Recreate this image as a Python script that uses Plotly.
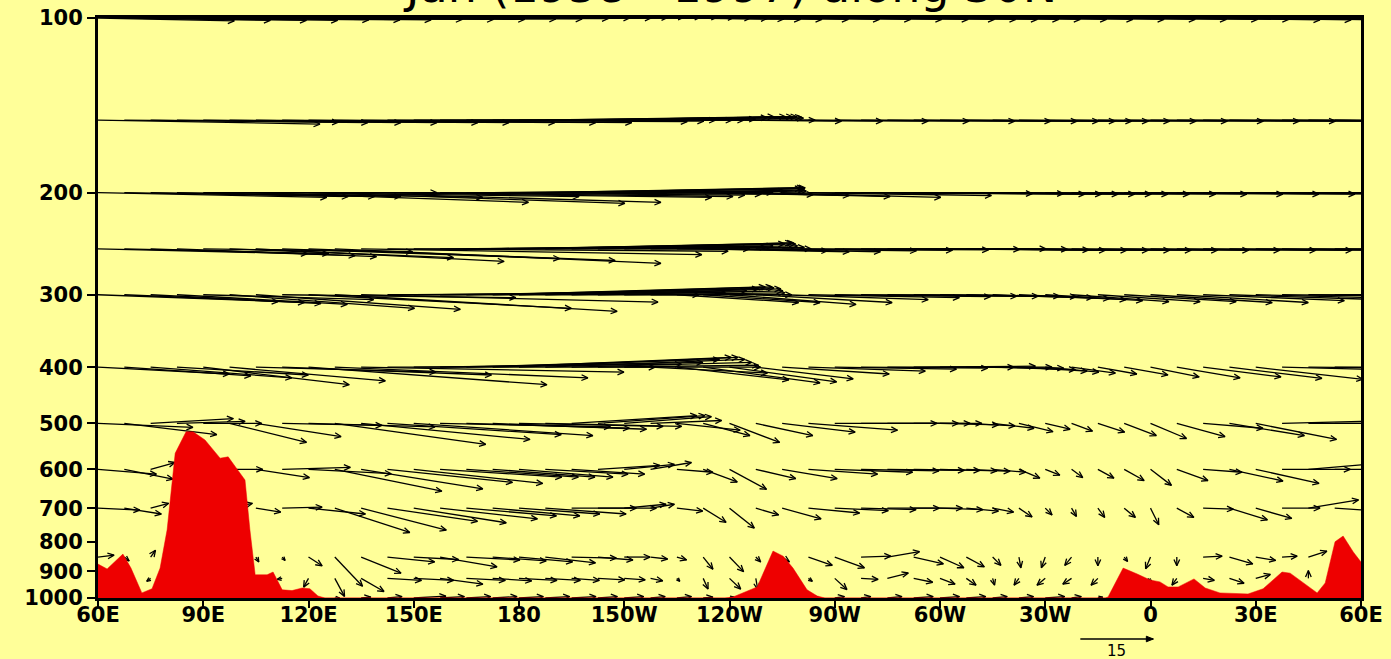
import numpy as np
import plotly.graph_objects as go

# ---------------- data ----------------
LEVELS = [100, 150, 200, 250, 300, 400, 500, 600, 700, 850, 925, 1000]   # hPa
LONS = np.arange(60.0, 420.0, 7.5)   # 48 grid longitudes from 60E eastward (degrees, 0..360+)

# zonal wind u (m/s) and scaled vertical component w (+ = upward) at each level
u100 = [28,30,32,33,34,35,36,37,38,39, 40,40,40,39,38,36,34,32,30,28, 26,24,22,20,19,19,20,21,22,22,
        22,21,20,19,18,18,18,19,20,21, 22,23,24,25,26,27,28,28]
w100 = [-0.6,-0.5,-0.5,-0.5,-0.4,-0.4,-0.4,-0.3,-0.3,-0.3, -0.2,-0.2,-0.1,0,0,0.1,0.2,0.2,0.2,0.1,
        0,-0.1,-0.2,-0.3,-0.3,-0.3,-0.3,-0.3,-0.3,-0.3, -0.3,-0.3,-0.3,-0.3,-0.3,-0.3,-0.3,-0.3,-0.3,-0.3,
        -0.3,-0.3,-0.4,-0.4,-0.4,-0.5,-0.5,-0.6]
u150 = [45.6,44,44.6,46,48,51,52,56,59,61, 67,65,62,60,57,54,51,47,44,40, 35.5,31,26,23,23,26,30,33,37,39,
        39,38,36,34,32,31,31,32,34,36, 38,40,42,43,44,45,45,45]
w150 = [-0.8,-0.4,-0.5,-0.5,-0.5,-0.5,-0.5,-0.5,-0.5,-0.5, -0.3,-0.2,0,0,0,0.2,0.5,0.7,0.7,0.7,
        0.7,0.6,0.4,0,-0.2,-0.2,-0.2,-0.2,-0.2,-0.2, -0.2,-0.2,-0.2,-0.2,-0.2,-0.2,-0.2,-0.2,-0.2,-0.2,
        -0.2,-0.2,-0.2,-0.2,-0.2,-0.2,-0.2,-0.3]
u200 = [47,46,46,46,48,52,56,61,65,67, 72,71,68,66,63,60,58,53,48,42.5, 37,32,28,30,33,38,43,46,47,46,
        44,42,40,38,36,35,35,36,38,40, 42,44,45,46,47,47,47,47]
w200 = [-1.0,-0.8,-0.8,-0.8,0,-1.0,-2.0,-0.8,-2.2,-2.0, -1.0,-0.8,-0.5,-0.3,0,0.3,0.8,1.0,1.0,0.8,
        0.5,0.3,-0.4,-0.6,-0.8,-1.0,-0.6,-0.2,-0.2,-0.3, -0.3,-0.3,-0.3,-0.3,-0.3,-0.3,-0.3,-0.3,-0.3,-0.3,
        -0.3,-0.3,-0.3,-0.3,-0.3,-0.3,-0.3,-0.3]
u250 = [43,42,42,41,43,46,51,57,63,67, 70,70,69,67,63,60,56,51,46,41, 37,33,31,30,31,33,35,37,38,38,
        37,36,34,33,32,31,30,30,31,32, 34,36,38,40,41,42,42,42]
w250 = [-1.0,-1.0,-1.4,-1.6,-0.6,-1.8,-2.6,-2.0,-2.4,-3.0, -1.2,-0.5,0,0.3,0.6,1.0,1.2,1.2,1.0,0.6,
        0.3,0,-0.4,-0.6,-0.6,-0.4,-0.3,-0.2,-0.1,0, -0.1,-0.2,-0.3,-0.3,-0.3,-0.3,-0.3,-0.3,-0.3,-0.3,
        -0.3,-0.3,-0.3,-0.3,-0.3,-0.3,-0.3,-0.3]
u300 = [37,37,35,35,35,38,42,48,54,58, 61,64,64,63,60,56,52,47,43,38, 33,29,25,24,26,28,30,31,32,32,
        31,30,28,26,24,22,20,20,21,23, 25,27,29,31,33,35,36,37]
w300 = [-1.4,-1.6,-1.8,-2.0,-1.0,-2.8,-3.0,-0.6,-2.8,-3.4, -1.5,0,0.5,0.8,1.2,1.6,1.6,1.4,1.2,0.8,
        0.4,0,-1.6,-1.6,-2.0,-1.6,-1.0,-0.6,-0.4,-0.3, -0.3,-0.3,-0.4,-0.6,-0.8,-1.0,-1.2,-1.4,-1.4,-1.4,
        -1.6,-1.6,-1.2,-1.0,-0.8,-0.4,-0.2,0]
u400 = [27,26,29,27,30,32,37,43,49,52, 54,55,55,54,52,49,45,41,37,33, 28,24,23,24,22,20,22,24,25,26,
        26,25,23,20,17,14,11,9,8,9, 10,13,16,19,22,24,25,26]
w400 = [-1.4,-1.8,-2.2,-1.6,-3.6,-2.8,-1.0,-1.6,-3.6,-2.2, -1.0,0,0.6,1.0,1.6,2.0,2.0,1.6,1.0,0.4,
        0,-1.2,-2.6,-3.2,-3.0,-2.4,-1.4,-0.8,-0.4,-0.2, 0,0.2,0,-0.2,-0.5,-0.8,-1.0,-1.2,-1.4,-1.6,
        -2.0,-2.2,-2.0,-2.3,-2.5,-0.6,-0.2,0]
u500 = [19.5,19,17,14,12,15.8,17.5,20.5,26,31, 34.7,35.7,36.8,35,33.5,31.6,29.6,28,25.7,22,
        17.9,14.6,13,9.6,10.3,11.7,15,18.3,21,20, 17,14,12,10,8.5,7,5.1,4.3,5.5,6.6,
        7.4,9.9,12.3,15.4,16.6,20,20,21]
w500 = [-0.8,-2.3,1.0,0.4,0,-3.9,-2.7,-0.4,-0.7,-4.3, -3.3,-2.3,-2.5,-0.7,-1.0,-1.2,-0.6,-0.6,1.6,1.6,
        1.4,0.6,-1.4,-2.5,-3.9,-2.5,-1.8,-1.4,0,0, 0,0,-0.3,-0.5,-1.0,-1.7,-1.2,-1.6,-1.8,-2.5,
        -3.1,-2.7,-1.0,-2.5,-3.3,0.5,0,0]
u600 = [12,10,5,6,6,6.8,11,14,17,22, 25,25.7,26.5,25,23,21,19.3,17,15,12.7, 10.3,8.4,7.4,7,7.6,8.2,11.3,14.2,16,16,
        15.8,13.6,11.7,9,6.8,4.3,3,2.3,3.3,4.1, 4.3,6.4,8,11,13,14,14,14]
w600 = [-1.0,-2.0,1.4,0,0,0,-1.7,0.4,-0.9,-4.5, -4.0,-2.7,-2.9,-1.6,-1.6,-1.6,-1.6,-1.0,-1.0,0.8,
        1.0,1.4,-0.6,-2.6,-4.1,-1.9,-1.9,-1.0,-0.6,-0.3, -0.2,-0.2,-0.3,-0.4,-0.6,-1.8,-1.2,-1.7,-1.8,-2.3,
        -3.3,-2.3,-0.6,-2.4,-2.9,0,1.2,0]
u700 = [8.6,7.6,3.7,5,5,4.7,5.1,8.2,11.7,15.4, 17.5,18.5,19,20,18.5,17.9,16.6,16.6,13.3,12,
        8.6,4.9,5.3,4.7,5.1,4.7,8,10.5,11,11.3, 10.7,10,8.8,6.6,4.3,2.7,1.4,1,1.4,2.3,
        1.7,3.5,6.2,7.8,7.4,7.8,10.3,8]
w700 = [-0.4,-1.2,1.0,0.5,0.5,1.0,-0.8,0.2,-1.2,-5.0, -4.5,-2.7,-3.0,-2.2,-1.6,-1.6,-1.2,-1.2,0,0,
        0.8,0.8,-0.6,-2.9,-4.1,-1.4,-2.2,-1.0,-0.5,-0.3, 0,0,-0.3,-0.6,-0.8,-1.8,-1.4,-1.7,-1.9,-1.9,
        -3.4,-1.9,-0.2,-2.4,-2.1,0,1.7,-0.5]
u850 = [3.3,1,1,1,1,1,0.6,0.6,2.8,5.7, 8.2,9.7,9.2,11.7,11,11,11,10.3,9.2,7.2, 5.3,3.5,2,2,2.9,1,1.5,4.9,6.1,6.1,
        6.6,6.1,4.9,3.7,1.7,0.4,-0.8,-1.4,0,0.7, -1,0,3.9,4.8,4.1,3.1,3.8,3]
w850 = [0.4,-0.8,1.4,0,0,0,-1.0,-0.7,-1.8,-6.0, -3.3,-1.0,-0.5,-2.0,-0.6,-0.8,-1.0,-1.2,-0.2,-0.6,
        0,-0.4,-0.6,-2.5,-3.0,-1.0,-1.0,-1.7,-2.2,0.2, 1.1,-1.4,-2.2,-2.0,-1.7,-2.2,-2.2,-1.7,-1.8,-0.9,
        -2.4,-1.8,0.2,-1.4,-0.7,0.2,1.2,0]
u925 = [1,1,-0.8,1,1,1,1,-1,-1,2, 4.7,7,8.2,8.8,8,8,7.8,7.2,5.7,5.5, 4.3,2.5,0.6,1,2.3,0.4,1,0.8,2.5,3.5,
        4.3,3.9,3.1,2,0.4,-1,-1.7,-1.8,-1.4,0, -0.5,-1,2.3,3,3,1,0,1]
w925 = [0,0,-0.6,0,0,0,0,-0.2,-1.8,-3.7, -2.7,-0.4,-0.4,-1.2,-0.4,-0.5,-0.4,-0.4,-0.4,-0.3,
        -0.3,-0.5,-0.6,-2.2,-2.2,-2.3,0,-0.6,-2.3,-0.2, 1.1,-0.8,-1.2,-1.4,-1.4,-1.4,-1.4,-1.2,-1.4,-1.0,
        -1.0,-1.4,-0.4,-1.0,0.8,0,1.6,0]
u1000 = [1,1,1,1,1,1,1,1,1,1, 2,3,6.6,5,5,5,5,5,5,4, 4,3,3,2,1,1,1,2,2,2,
         3,4,4,4,3,3,4,2,1,1, 1,1,1,1,1,1,1,1]
w1000 = [0,0,0,0,0,0,0,0,0,0, 0.2,0.3,0.4,0.3,0.3,0.3,0.3,0.3,0.3,0.3,
         0.3,0.3,0.3,0.2,0.2,0.2,0.2,0.2,0.3,0.3, 0.3,0.3,0.3,0.3,0.3,0.3,0.3,0.3,0.2,0.2,
         0.2,0.2,0.2,0.2,0.2,0.2,0.2,0.2]

U_BY_LEVEL = [u100, u150, u200, u250, u300, u400, u500, u600, u700, u850, u925, u1000]
W_BY_LEVEL = [w100, w150, w200, w250, w300, w400, w500, w600, w700, w850, w925, w1000]

# surface pressure (hPa) along the section
TERRAIN_LON = [60, 62.6, 67.1, 69.4, 72.5, 75.4, 77.7, 79.7, 82.0, 85.1, 87.1, 90.5, 94.8, 97.1, 99.6,
               101.9, 103.3, 104.8, 108.2, 109.9, 112.5, 115.3, 118.2, 120.4, 122.7, 124.7,
               238.7, 241.0, 247.9, 252.4, 255.3, 258.1, 262.1, 265.0, 267.2,
               347.1, 347.9, 352.2, 356.2, 359.9, 362.7, 365.0, 367.9, 372.4, 375.6, 379.8, 387.8,
               392.1, 397.5, 399.8, 407.5, 409.8, 412.6, 414.9, 417.8, 420]
TERRAIN_P = [874, 891, 840, 888, 980, 964, 888, 763, 563, 517, 517, 534, 574, 571, 599,
             626, 763, 912, 912, 902, 968, 971, 961, 964, 992, 1000,
             1000, 996, 957, 830, 847, 888, 968, 992, 1000,
             1000, 996, 888, 909, 931, 938, 957, 957, 927, 961, 980, 984,
             964, 902, 906, 980, 942, 800, 782, 833, 867]

XTICK_VALS = [60, 90, 120, 150, 180, 210, 240, 270, 300, 330, 360, 390, 420]
XTICK_TEXT = ["60E", "90E", "120E", "150E", "180", "150W", "120W", "90W", "60W", "30W", "0", "30E", "60E"]
YTICK_VALS = [100, 200, 300, 400, 500, 600, 700, 800, 900, 1000]
YTICK_TEXT = ["100", "200", "300", "400", "500", "600", "700", "800", "900", "1000"]

TITLE = "Jan (1958 - 1997) along 30N"
REF_SPEED = 15

# ---------------- layout / scales ----------------
FIG_W, FIG_H = 1391, 659
ML, MR, MT, MB = 98, 30, 18, 61
PLOT_W = FIG_W - ML - MR
PLOT_H = FIG_H - MT - MB
X0, X1 = 60.0, 420.0
PX_PER_DEG = PLOT_W / (X1 - X0)
PX_PER_DEC = PLOT_H / 1.0          # one decade of pressure on the plot
PX_PER_MS = 73.0 / 15.0            # arrow length scale
HEAD = 7.0
HEAD_ANG = np.radians(24)

BG = "#FFFF99"
RED = "#EE0000"

xs, ys = [], []
for p, ul, wl in zip(LEVELS, U_BY_LEVEL, W_BY_LEVEL):
    for lon, u, w in zip(LONS, ul, wl):
        dxp, dyp = u * PX_PER_MS, w * PX_PER_MS
        L = np.hypot(dxp, dyp)
        if L < 0.8:
            continue

        def to_data(px, py, lon=lon, p=p):
            return lon + px / PX_PER_DEG, 10 ** (np.log10(p) - py / PX_PER_DEC)

        ux, uy = dxp / L, dyp / L
        hl = min(HEAD, 0.9 * L)
        c, s = np.cos(HEAD_ANG), np.sin(HEAD_ANG)
        lx, ly = dxp - hl * (c * ux - s * uy), dyp - hl * (c * uy + s * ux)
        rx, ry = dxp - hl * (c * ux + s * uy), dyp - hl * (c * uy - s * ux)
        for px, py in [(0, 0), (dxp, dyp)]:
            a, b = to_data(px, py); xs.append(a); ys.append(b)
        xs.append(None); ys.append(None)
        for px, py in [(lx, ly), (dxp, dyp), (rx, ry)]:
            a, b = to_data(px, py); xs.append(a); ys.append(b)
        xs.append(None); ys.append(None)

fig = go.Figure()
fig.add_trace(go.Scatter(x=xs, y=ys, mode="lines", line=dict(color="black", width=1.3),
                         hoverinfo="skip", showlegend=False))
fig.add_trace(go.Scatter(x=TERRAIN_LON + [X1, X0], y=TERRAIN_P + [1000, 1000],
                         mode="lines", fill="toself", fillcolor=RED,
                         line=dict(color=RED, width=0.5), hoverinfo="skip", showlegend=False))

# reference vector below the plot
ref_x0 = 340.0
ref_len = REF_SPEED * PX_PER_MS / PX_PER_DEG
ref_y = -41.0 / PLOT_H
hd = 7.0 / PX_PER_DEG
hv = 2.8 / PLOT_H
tip = ref_x0 + ref_len
fig.add_shape(type="line", xref="x", yref="paper", x0=ref_x0, x1=tip, y0=ref_y, y1=ref_y,
              line=dict(color="black", width=1.4))
fig.add_shape(type="path", xref="x", yref="paper",
              path=f"M {tip-hd},{ref_y+hv} L {tip},{ref_y} L {tip-hd},{ref_y-hv} Z",
              fillcolor="black", line=dict(color="black", width=1))
fig.add_annotation(x=ref_x0 + ref_len / 2, y=-53.0 / PLOT_H, xref="x", yref="paper",
                   yanchor="middle", text=str(REF_SPEED), showarrow=False,
                   font=dict(family="DejaVu Sans", size=15, color="black"))

fig.add_annotation(x=0.5, y=1.0, xref="paper", yref="paper", yanchor="bottom", yshift=3,
                   text=TITLE, showarrow=False,
                   font=dict(family="DejaVu Sans", size=46, color="black"))

axis_font = dict(family="DejaVu Sans", size=21, color="black", weight="bold")
fig.update_xaxes(range=[X0, X1], tickvals=XTICK_VALS, ticktext=XTICK_TEXT, automargin=False,
                 showgrid=False, zeroline=False, showline=True, mirror=True,
                 linecolor="black", linewidth=3, ticks="outside", ticklen=7, tickwidth=2,
                 tickcolor="black", tickfont=axis_font, ticklabelstandoff=-11)
fig.update_yaxes(type="log", range=[3, 2], tickvals=YTICK_VALS, ticktext=YTICK_TEXT, automargin=False,
                 showgrid=False, zeroline=False, showline=True, mirror=True,
                 linecolor="black", linewidth=3, ticks="outside", ticklen=8, tickwidth=2,
                 tickcolor="black", tickfont=axis_font)
fig.update_layout(template="none", width=FIG_W, height=FIG_H,
                  margin=dict(l=ML, r=MR, t=MT, b=MB, pad=0, autoexpand=False),
                  paper_bgcolor=BG, plot_bgcolor=BG, showlegend=False, hovermode=False)

fig.write_html("out.html")
